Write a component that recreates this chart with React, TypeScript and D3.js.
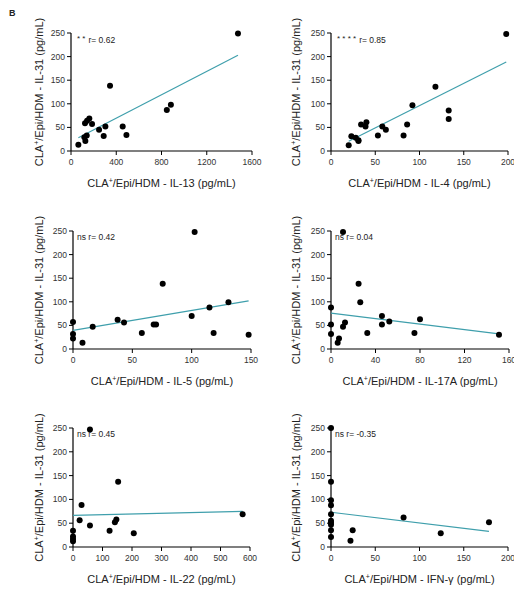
import React from 'react'
import * as d3 from 'd3'

// IL-31 (y) vs each cytokine (x), pg/mL
const il13X = [1476, 345, 883, 847, 162, 142, 124, 186, 304, 457, 248, 490, 139, 289, 118, 127, 65]
const il13Y = [249, 138, 98, 87, 69, 64, 59, 57, 52, 52, 45, 34, 33, 32, 29, 21, 13]

const il4X = [198, 118, 133, 133, 92, 86, 82, 62, 58, 53, 40, 39, 34, 23, 28, 31, 31, 20]
const il4Y = [248, 136, 86, 68, 97, 56, 33, 45, 52, 33, 61, 52, 56, 31, 28, 23, 21, 12]

const il5X = [102.5, 75.6, 131, 115, 100, 37.6, 43, 0, 16.6, 68, 70, 58, 118.5, 148, 0, 0, 8]
const il5Y = [248, 138, 99, 88, 70, 62, 56, 57, 47, 52, 52, 34, 34, 30, 32, 22, 13]

const il17X = [10.8, 24.8, 26.3, 0, 0, 0, 12.6, 10.8, 7.2, 6, 32.6, 45.8, 45.8, 52.4, 80, 75, 151]
const il17Y = [248, 138, 99, 88, 52, 32, 56, 47, 22, 13, 34, 70, 52, 58, 63, 34, 30]

const il22X = [57.5, 153, 29, 575, 22.5, 147, 142, 57.5, 124, 206, 0, 0, 0, 0]
const il22Y = [247, 137, 88, 69, 56, 58, 52, 45, 34, 29, 34, 22, 17, 12]

const ifngX = [0, 0, 0, 0, 0, 0, 0, 0, 0, 0, 22, 24.5, 82, 124, 178.5]
const ifngY = [250, 137, 98, 87.5, 69, 55, 51, 47, 35, 21, 13, 35, 62, 29, 52]

// linear fits: [intercept, slope, xStart, xEnd]
const fits = [
  [19.9, 0.124, 65, 1476],
  [1.95, 0.943, 20, 198],
  [39.5, 0.422, 0, 148],
  [76, -0.291, 0, 151],
  [66.5, 0.0148, 0, 575],
  [73, -0.224, 0, 178.5]
]

const cytokines = ['IL-13', 'IL-4', 'IL-5', 'IL-17A', 'IL-22', 'IFN-\u03b3']
const xMax = [1600, 200, 150, 160, 600, 200]
const xTicks = [
  [0, 400, 800, 1200, 1600],
  [0, 50, 100, 150, 200],
  [0, 50, 100, 150],
  [0, 40, 80, 120, 160],
  [0, 100, 200, 300, 400, 500, 600],
  [0, 50, 100, 150, 200]
]
const yTicks = [0, 50, 100, 150, 200, 250]
const sig = ['**', '****', 'ns', 'ns', 'ns', 'ns']
const rVals = ['r= 0.62', 'r= 0.85', 'r= 0.42', 'r= 0.04', 'r= 0.45', 'r= -0.35']

const xsAll = [il13X, il4X, il5X, il17X, il22X, ifngX]
const ysAll = [il13Y, il4Y, il5Y, il17Y, il22Y, ifngY]

// plot boxes (left, right, top, bottom)
const boxes = [
  [71, 252, 33, 151],
  [331, 508, 33, 151],
  [73, 251, 231, 349],
  [331, 509, 231, 349],
  [73, 250, 428, 547],
  [331, 508, 428, 547]
]

const font = 'Arial, "Liberation Sans", sans-serif'
const lineColor = '#3f9fac'

function Panel({ i }: { i: number }) {
  const [l, r, t, b] = boxes[i]
  const x = d3.scaleLinear().domain([0, xMax[i]]).range([l, r])
  const y = d3.scaleLinear().domain([0, 250]).range([b, t])
  const [b0, m, x1, x2] = fits[i]
  const line = d3.line<number>().x(d => x(d)).y(d => y(b0 + m * d))
  const xs = xsAll[i]
  const ys = ysAll[i]
  const labelX = l - 28
  const yLabelX = l < 200 ? 43 : 300
  return (
    <g>
      {/* axes */}
      <line x1={l} x2={l} y1={t} y2={b} stroke="#000" strokeWidth={1.2} />
      <line x1={l} x2={r} y1={b} y2={b} stroke="#000" strokeWidth={1.2} />
      {yTicks.map(v => (
        <g key={'y' + v}>
          <line x1={l - 4} x2={l} y1={y(v)} y2={y(v)} stroke="#000" strokeWidth={1} />
          <text x={l - 6} y={y(v) + 3} textAnchor="end" fontSize={8.5} fill="#333">{v}</text>
        </g>
      ))}
      {xTicks[i].map(v => (
        <g key={'x' + v}>
          <line x1={x(v)} x2={x(v)} y1={b} y2={b + 4} stroke="#000" strokeWidth={1} />
          <text x={x(v)} y={b + 14} textAnchor="middle" fontSize={8.5} fill="#333">{v}</text>
        </g>
      ))}
      {/* fit */}
      <path d={line([x1, x2]) || ''} stroke={lineColor} strokeWidth={1.2} fill="none" />
      {/* points */}
      {xs.map((v, k) => (
        <circle key={k} cx={x(v)} cy={y(ys[k])} r={3} fill="#000" />
      ))}
      {/* stats */}
      {sig[i] === 'ns' ? (
        <text x={l + 4} y={t + 9} fontSize={8.5} fill="#222">
          ns {rVals[i]}
        </text>
      ) : (
        <text x={l + 6} y={t + 10} fontSize={8.5} fill="#222">
          <tspan fontSize={8} dy={-2}>{sig[i].split('').join(' ')}</tspan>
          <tspan dx={3} dy={2}>{rVals[i]}</tspan>
        </text>
      )}
      {/* labels */}
      <text x={(l + r) / 2} y={b + 36} textAnchor="middle" fontSize={11} fill="#222">
        CLA<tspan fontSize={7} dy={-4}>+</tspan><tspan dy={4}>/Epi/HDM - {cytokines[i]} (pg/mL)</tspan>
      </text>
      <text
        transform={`translate(${yLabelX},${(t + b) / 2}) rotate(-90)`}
        textAnchor="middle"
        fontSize={11}
        fill="#222"
      >
        CLA<tspan fontSize={7} dy={-4}>+</tspan><tspan dy={4}>/Epi/HDM - IL-31 (pg/mL)</tspan>
      </text>
    </g>
  )
}

export default function App() {
  return (
    <svg
      width={514}
      height={591}
      style={{ position: 'absolute', left: 0, top: 0, background: '#fff' }}
      fontFamily={font}
    >
      <text x={9} y={16} fontSize={9} fontWeight="bold" fill="#222">B</text>
      {boxes.map((_, i) => (
        <Panel key={i} i={i} />
      ))}
    </svg>
  )
}
